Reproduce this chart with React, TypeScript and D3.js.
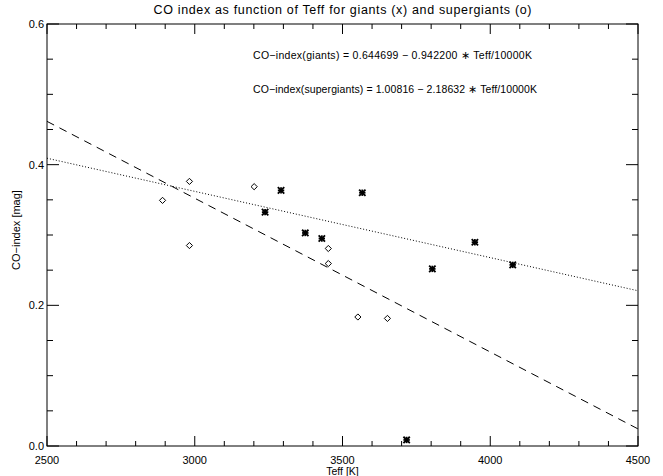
import React from "react";
import * as d3 from "d3";

const titleText = "CO index as function of Teff for giants (x) and supergiants (o)";
const xLabel = "Teff [K]";
const yLabel = "CO\u2212index [mag]";
const eqGiants = "CO\u2212index(giants) = 0.644699 \u2212 0.942200 \u2217 Teff/10000K";
const eqSuper = "CO\u2212index(supergiants) = 1.00816 \u2212 2.18632 \u2217 Teff/10000K";

const xTicks = [2500, 3000, 3500, 4000, 4500];
const yTicks = [0.0, 0.2, 0.4, 0.6];

// giants (x)
const giantsTeff = [3238, 3292, 3374, 3430, 3567, 3717, 3804, 3948, 4076];
const giantsCO = [0.3325, 0.3634, 0.3029, 0.295, 0.3601, 0.0086, 0.2518, 0.2897, 0.2575];

// supergiants (o)
const superTeff = [2891, 2982, 2982, 3201, 3452, 3452, 3552, 3652];
const superCO = [0.3492, 0.3762, 0.285, 0.3687, 0.2808, 0.2594, 0.1834, 0.1814];

const giantsFit = [0.644699, -0.9422];
const superFit = [1.00816, -2.18632];

const W = 663;
const H = 476;
const L = 47;
const R = 638;
const T = 24;
const B = 446;

export default function App() {
  const x = d3.scaleLinear().domain([2500, 4500]).range([L, R]);
  const y = d3.scaleLinear().domain([0, 0.6]).range([B, T]);

  const xMinor = d3.range(2500, 4501, 100);
  const yMinor = d3.range(0, 0.6001, 0.05);

  const fitLine = (c: number[]) =>
    d3.line<number>()
      .x((t) => x(t))
      .y((t) => y(c[0] + (c[1] * t) / 10000))([2500, 4500]) || "";

  const font = "'Liberation Sans', Arial, sans-serif";
  const s = 3.1;

  return (
    <svg width={W} height={H} style={{ position: "absolute", left: 0, top: 0, background: "#fff" }}>
      <rect x={0} y={0} width={W} height={H} fill="#fff" />
      <text x={(L + R) / 2} y={14} textAnchor="middle" fontFamily={font} fontSize={12.5}
        textLength={378} lengthAdjust="spacing" fill="#000">
        {titleText}
      </text>
      {/* axes frame */}
      <rect x={L} y={T} width={R - L} height={B - T} fill="none" stroke="#000" strokeWidth={1} />
      {xMinor.map((t, i) => {
        const major = xTicks.includes(t);
        const len = major ? 10 : 5;
        return (
          <g key={"xt" + i}>
            <line x1={x(t)} x2={x(t)} y1={B} y2={B - len} stroke="#000" strokeWidth={1} />
            <line x1={x(t)} x2={x(t)} y1={T} y2={T + len} stroke="#000" strokeWidth={1} />
          </g>
        );
      })}
      {yMinor.map((v, i) => {
        const major = Math.abs(v * 5 - Math.round(v * 5)) < 1e-6;
        const len = major ? 12 : 6;
        return (
          <g key={"yt" + i}>
            <line x1={L} x2={L + len} y1={y(v)} y2={y(v)} stroke="#000" strokeWidth={1} />
            <line x1={R} x2={R - len} y1={y(v)} y2={y(v)} stroke="#000" strokeWidth={1} />
          </g>
        );
      })}
      {xTicks.map((t) => (
        <text key={"xl" + t} x={x(t)} y={464} textAnchor="middle" fontFamily={font} fontSize={11} fill="#000">
          {t}
        </text>
      ))}
      {yTicks.map((v) => (
        <text key={"yl" + v} x={L - 3} y={y(v) + 4} textAnchor="end" fontFamily={font} fontSize={11} fill="#000">
          {v.toFixed(1)}
        </text>
      ))}
      <text x={(L + R) / 2} y={475} textAnchor="middle" fontFamily={font} fontSize={10.5} fill="#000">
        {xLabel}
      </text>
      <text
        transform={`translate(20,230) rotate(-90)`}
        textAnchor="middle"
        fontFamily={font}
        fontSize={11}
        fill="#000"
      >
        {yLabel}
      </text>
      <text x={253} y={59} fontFamily={font} fontSize={10.5} textLength={279} lengthAdjust="spacing" fill="#000">
        {eqGiants}
      </text>
      <text x={253} y={93} fontFamily={font} fontSize={10.5} textLength={284} lengthAdjust="spacing" fill="#000">
        {eqSuper}
      </text>
      <clipPath id="plotclip">
        <rect x={L} y={T} width={R - L} height={B - T} />
      </clipPath>
      <g clipPath="url(#plotclip)">
        <path d={fitLine(giantsFit)} fill="none" stroke="#000" strokeWidth={1} strokeDasharray="1,2" />
        <path d={fitLine(superFit)} fill="none" stroke="#000" strokeWidth={1} strokeDasharray="8,6" />
      </g>
      {superTeff.map((t, i) => {
        const cx = x(t);
        const cy = y(superCO[i]);
        return (
          <path
            key={"sg" + i}
            d={`M${cx - s},${cy}L${cx},${cy - s}L${cx + s},${cy}L${cx},${cy + s}Z`}
            fill="none"
            stroke="#000"
            strokeWidth={1}
          />
        );
      })}
      {giantsTeff.map((t, i) => {
        const cx = x(t);
        const cy = y(giantsCO[i]);
        const r = 3.2;
        return (
          <g key={"g" + i} stroke="#000" strokeWidth={1.8}>
            <line x1={cx - r} x2={cx + r} y1={cy} y2={cy} />
            <line x1={cx} x2={cx} y1={cy - r} y2={cy + r} />
            <line x1={cx - r} x2={cx + r} y1={cy - r} y2={cy + r} />
            <line x1={cx - r} x2={cx + r} y1={cy + r} y2={cy - r} />
          </g>
        );
      })}
    </svg>
  );
}
